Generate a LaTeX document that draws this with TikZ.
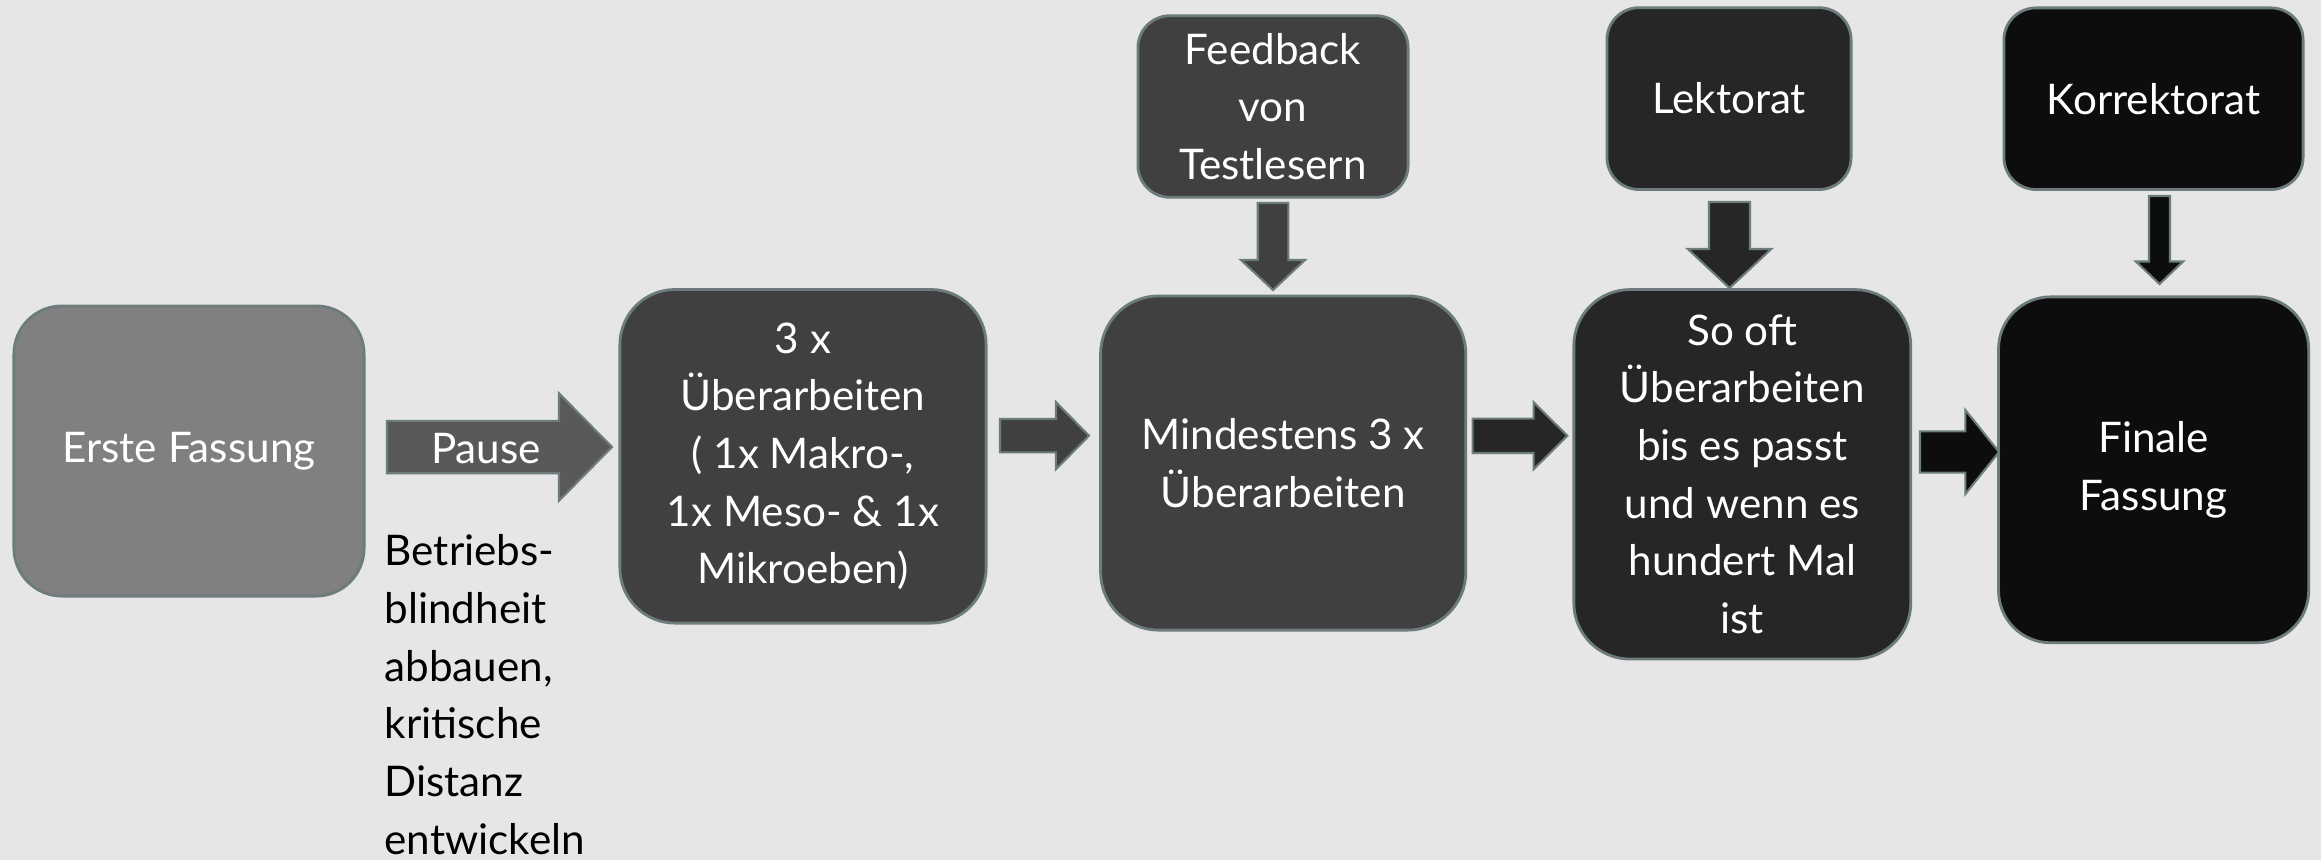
\documentclass[tikz,border=0pt]{standalone}
\usepackage{fontspec}
\setmainfont{Lato}
\usetikzlibrary{calc}
\definecolor{bg}{RGB}{230,230,230}
\definecolor{edge}{RGB}{108,124,124}
\definecolor{cA}{RGB}{128,128,128}
\definecolor{cP}{RGB}{89,89,89}
\definecolor{cB}{RGB}{64,64,64}
\definecolor{cC}{RGB}{38,38,38}
\definecolor{cD}{RGB}{13,13,13}
\tikzset{
  box/.style={draw=edge, line width=0.8pt, text=white, align=center, inner sep=0pt,
    font=\fontsize{12}{16.4}\selectfont},
  blockarrow/.style={draw=edge, line width=0.6pt, line join=miter},
}
\newcommand\hblock[6]{%
  \filldraw[blockarrow,fill=#1] ($(#2)+(0,-#4)$) -- ($(#3)+(-#6,-#4)$) -- ($(#3)+(-#6,-#5)$) -- (#3)
    -- ($(#3)+(-#6,#5)$) -- ($(#3)+(-#6,#4)$) -- ($(#2)+(0,#4)$) -- cycle;}
\newcommand\vblock[6]{%
  \filldraw[blockarrow,fill=#1] ($(#2)+(-#4,0)$) -- ($(#3)+(-#4,-#6)$) -- ($(#3)+(-#5,-#6)$) -- (#3)
    -- ($(#3)+(#5,-#6)$) -- ($(#3)+(#4,-#6)$) -- ($(#2)+(#4,0)$) -- cycle;}
\begin{document}
\begin{tikzpicture}[x=0.01cm,y=-0.01cm]
\fill[bg] (0,0) rectangle (2321,860);
\useasboundingbox (0,0) rectangle (2321,860);

% main boxes
\node[box, fill=cA, minimum width=3.5cm, minimum height=2.9cm, rounded corners=0.48cm] (erste) at (189,451) {Erste Fassung};
\node[box, fill=cB, minimum width=3.66cm, minimum height=3.334cm, rounded corners=0.55cm] (drei) at (803,456.3)
  {3 x\\Überarbeiten\\( 1x Makro-,\\1x Meso- \& 1x\\Mikroeben)};
\node[box, fill=cB, minimum width=3.65cm, minimum height=3.34cm, rounded corners=0.58cm] (mind) at (1283.2,463)
  {Mindestens 3 x\\Überarbeiten};
\node[box, fill=cC, minimum width=3.367cm, minimum height=3.693cm, rounded corners=0.56cm] (sooft) at (1742.3,474.3)
  {So oft\\Überarbeiten\\bis es passt\\und wenn es\\hundert Mal\\ist};
\node[box, fill=cD, minimum width=3.10cm, minimum height=3.457cm, rounded corners=0.52cm] (finale) at (2153.6,469.8)
  {Finale\\Fassung};

% top boxes
\node[box, fill=cB, minimum width=2.70cm, minimum height=1.815cm, rounded corners=0.32cm] (feedback) at (1273,106.5)
  {Feedback\\von\\Testlesern};
\node[box, fill=cC, minimum width=2.44cm, minimum height=1.817cm, rounded corners=0.32cm] (lektorat) at (1729,98.6)
  {Lektorat};
\node[box, fill=cD, minimum width=2.99cm, minimum height=1.815cm, rounded corners=0.32cm] (korrektorat) at (2153.5,98.7)
  {Korrektorat};

% arrow coordinates
\coordinate (p0) at (387,447);   \coordinate (p1) at (612,447);
\coordinate (a20) at (1000,435.7); \coordinate (a21) at (1089,435.7);
\coordinate (a30) at (1472.6,435.8); \coordinate (a31) at (1567.4,435.8);
\coordinate (a40) at (1920,452); \coordinate (a41) at (1999,452);
\coordinate (f0) at (1273,203); \coordinate (f1) at (1273,290);
\coordinate (l0) at (1729.5,202); \coordinate (l1) at (1729.5,288);
\coordinate (k0) at (2159.5,196); \coordinate (k1) at (2159.5,284);

\hblock{cP}{p0}{p1}{26.2}{53.7}{53}
\hblock{cB}{a20}{a21}{16.7}{33.5}{33}
\hblock{cC}{a30}{a31}{17.2}{33.5}{33.8}
\hblock{cD}{a40}{a41}{20.6}{41.9}{33.6}
\vblock{cB}{f0}{f1}{15.3}{32}{30}
\vblock{cC}{l0}{l1}{20.5}{41.7}{39}
\vblock{cD}{k0}{k1}{10.5}{23.6}{22.5}

\node[text=white, inner sep=0pt, font=\fontsize{12}{16.4}\selectfont] (pause) at (486,449) {Pause};

\node[anchor=north west, align=left, inner sep=0pt, text=black, font=\fontsize{12}{16.4}\selectfont] (note) at (384,534)
  {Betriebs-\\blindheit\\abbauen,\\kritische\\Distanz\\entwickeln};
\end{tikzpicture}
\end{document}
